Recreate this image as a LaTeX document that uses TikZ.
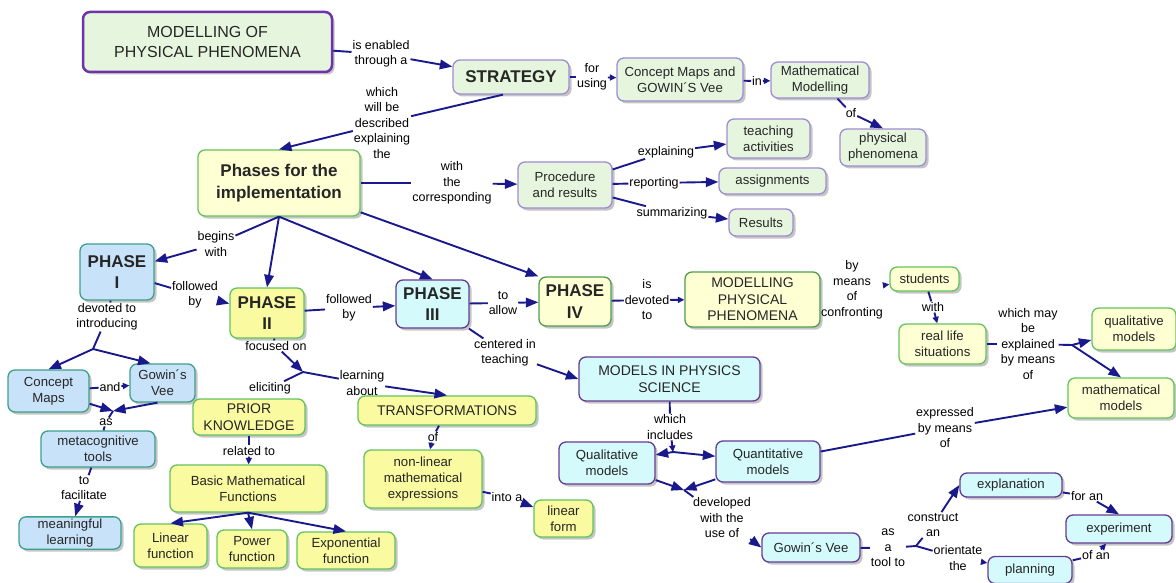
\documentclass[tikz,border=0pt]{standalone}
\usepackage{fontspec}
\setmainfont{Liberation Sans}
\usepackage{xcolor}
\usetikzlibrary{positioning, shapes, arrows.meta, calc, shadows}
\definecolor{cmGreenFill}{RGB}{230,246,222}
\definecolor{cmYellowFill}{RGB}{250,250,160}
\definecolor{cmCreamFill}{RGB}{255,255,212}
\definecolor{cmBlueFill}{RGB}{200,226,250}
\definecolor{cmCyanFill}{RGB}{212,250,252}
\definecolor{cmPurple}{RGB}{110,50,170}
\definecolor{cmLavender}{RGB}{160,140,210}
\definecolor{cmGreenLine}{RGB}{100,195,95}
\definecolor{cmTeal}{RGB}{60,160,140}
\definecolor{cmViolet}{RGB}{100,60,150}
\definecolor{cmNavy}{RGB}{25,25,140}
\newcommand{\boxfont}{\fontsize{13.2}{16}\selectfont}
\newcommand{\capsfont}{\fontsize{14}{16.5}\selectfont}
\newcommand{\bigfont}{\fontsize{16}{20}\selectfont}
\newcommand{\headfont}{\fontsize{17}{21.5}\selectfont\bfseries}
\newcommand{\linkfont}{\fontsize{12.5}{15.5}\selectfont}
\tikzset{boxsize/.style 2 args={minimum width=#1pt, minimum height=#2pt}}
\tikzset{conceptmap/.style={
    x=1pt, y=-1pt,
    conceptbox/.style={rectangle, rounded corners=7pt, line width=1.3pt, align=center, inner sep=2pt, text=black!85, font=\boxfont, drop shadow={shadow xshift=2.5pt, shadow yshift=-2.5pt, fill=black!45}},
    greenc/.style={conceptbox, fill=cmGreenFill, draw=cmLavender},
    yellowc/.style={conceptbox, fill=cmYellowFill, draw=cmGreenLine},
    creamc/.style={conceptbox, fill=cmCreamFill, draw=cmGreenLine},
    bluec/.style={conceptbox, fill=cmBlueFill, draw=cmTeal},
    cyanc/.style={conceptbox, fill=cmCyanFill, draw=cmViolet},
    headline/.style={font=\headfont},
    linkword/.style={align=center, inner sep=0.8pt, font=\linkfont},
    link/.style={draw=cmNavy, line width=1.9pt},
    arrowlink/.style={link, -{Triangle[length=12.5pt,width=9.5pt]}},
    smallarrow/.style={link, -{Triangle[length=6.5pt,width=6pt]}},
}}

\begin{document}
\begin{tikzpicture}[conceptmap]
    \useasboundingbox (0,0) rectangle (1176,583);

    \node[greenc, draw=cmPurple, line width=2.5pt, boxsize={249}{60}, font=\bigfont] (modphen) at (207.5,42) {MODELLING OF\\PHYSICAL PHENOMENA};
    \node[greenc, boxsize={116}{34}, headline] (strategy) at (511,77) {STRATEGY};
    \node[greenc, boxsize={126}{43}] (cmgv) at (680,79.5) {Concept Maps and\\GOWIN´S Vee};
    \node[greenc, boxsize={98}{36}] (mathmod) at (820,80) {Mathematical\\Modelling};
    \node[greenc, boxsize={86}{37}] (physphen) at (883,147.5) {physical\\phenomena};
    \node[creamc, boxsize={162}{66}, headline] (phases) at (279,183) {Phases for the\\implementation};
    \node[greenc, boxsize={94}{46}] (procres) at (565,185) {Procedure\\and results};
    \node[greenc, boxsize={83}{39}] (teaching) at (768.5,138.5) {teaching\\activities};
    \node[greenc, boxsize={107}{26}] (assign) at (772.5,181) {assignments};
    \node[greenc, boxsize={64}{27}] (results) at (761,222.5) {Results};
    \node[bluec, boxsize={74}{56}, headline] (phase1) at (117,272) {PHASE\\I};
    \node[yellowc, boxsize={74}{50}, headline] (phase2) at (267,313) {PHASE\\II};
    \node[cyanc, boxsize={73}{48}, headline] (phase3) at (432.5,304) {PHASE\\III};
    \node[creamc, draw=cmGreenLine!80!black, boxsize={72}{49}, headline] (phase4) at (575,301.5) {PHASE\\IV};
    \node[creamc, draw=cmGreenLine!80!black, boxsize={135}{55}, font=\capsfont] (modphen2) at (752.5,299.5) {MODELLING\\PHYSICAL\\PHENOMENA};
    \node[creamc, boxsize={69}{24}] (students) at (924.5,279) {students};
    \node[creamc, boxsize={87}{40}] (reallife) at (942.5,344) {real life\\situations};
    \node[creamc, boxsize={84}{42}] (qualmod) at (1134,329) {qualitative\\models};
    \node[creamc, boxsize={106}{40}] (mathmodels) at (1121,398) {mathematical\\models};
    \node[cyanc, boxsize={181}{44}, font=\capsfont] (modsci) at (669.5,379) {MODELS IN PHYSICS\\SCIENCE};
    \node[cyanc, boxsize={96}{42}] (qualmod2) at (607,463) {Qualitative\\models};
    \node[cyanc, boxsize={104}{41}] (quantmod) at (768,461.5) {Quantitative\\models};
    \node[cyanc, boxsize={98}{29}] (gowin2) at (811,547.5) {Gowin´s Vee};
    \node[cyanc, boxsize={102}{24}] (explan) at (1011,485) {explanation};
    \node[cyanc, boxsize={106}{28}] (experiment) at (1119,529) {experiment};
    \node[cyanc, boxsize={84}{27}] (planning) at (1030,570) {planning};
    \node[bluec, boxsize={81}{42}] (conmaps) at (48.5,391) {Concept\\Maps};
    \node[bluec, boxsize={65}{38}] (gowin1) at (162.5,383) {Gowin´s\\Vee};
    \node[bluec, boxsize={114}{36}] (metacog) at (98,449) {metacognitive\\tools};
    \node[bluec, boxsize={102}{32}] (meaning) at (70,533) {meaningful\\learning};
    \node[yellowc, boxsize={112}{36}, font=\capsfont] (prior) at (249,417) {PRIOR\\KNOWLEDGE};
    \node[yellowc, boxsize={156}{47}] (basic) at (248,488.5) {Basic Mathematical\\Functions};
    \node[yellowc, boxsize={73}{43}] (linear) at (170.5,545.5) {Linear\\function};
    \node[yellowc, boxsize={70}{38}] (power) at (252,549) {Power\\function};
    \node[yellowc, boxsize={98}{37}] (expo) at (346,550.5) {Exponential\\function};
    \node[yellowc, boxsize={178}{29}, font=\capsfont] (transf) at (447,410.5) {TRANSFORMATIONS};
    \node[yellowc, boxsize={118}{58}] (nonlin) at (423,479) {non-linear\\mathematical\\expressions};
    \node[yellowc, boxsize={59}{37}] (linform) at (563.5,518.5) {linear\\form};

    \node[linkword] (isenabled) at (381,54) {is enabled\\through a};
    \node[linkword] (forusing) at (592,77) {for\\using};
    \node[linkword] (inlabel) at (757,81) {in};
    \node[linkword] (oflabel) at (851,113) {of};
    \node[linkword] (described) at (382,123) {which\\will be\\described\\explaining\\the};
    \node[linkword] (corresp) at (452,183) {with\\the\\corresponding};
    \node[linkword] (explaining) at (666,152) {explaining};
    \node[linkword] (reporting) at (654,183) {reporting};
    \node[linkword] (summarizing) at (672,213) {summarizing};
    \node[linkword] (begins) at (216,244) {begins\\with};
    \node[linkword] (followedI) at (195,295) {followed\\by};
    \node[linkword] (followedII) at (349,308) {followed\\by};
    \node[linkword] (toallow) at (503,303) {to\\allow};
    \node[linkword] (devoted) at (647,300) {is\\devoted\\to};
    \node[linkword] (bymeans) at (852,290) {by\\means\\of\\confronting};
    \node[linkword] (withlabel) at (933,307) {with};
    \node[linkword] (maybe) at (1028,344) {which may\\be\\explained\\by means\\of};
    \node[linkword] (centered) at (505,353) {centered in\\teaching};
    \node[linkword] (introducing) at (107,317) {devoted to\\introducing};
    \node[linkword] (andlabel) at (110,387) {and};
    \node[linkword] (aslabel) at (106,422) {as};
    \node[linkword] (facilitate) at (84,488) {to\\facilitate};
    \node[linkword] (focused) at (276,346) {focused on};
    \node[linkword] (eliciting) at (270,388) {eliciting};
    \node[linkword] (learning) at (362,383) {learning\\about};
    \node[linkword] (related) at (249,451) {related to};
    \node[linkword] (oftransf) at (433,437) {of};
    \node[linkword] (intoa) at (507,497) {into a};
    \node[linkword] (includes) at (670,427) {which\\includes};
    \node[linkword] (developed) at (722,518) {developed\\with the\\use of};
    \node[linkword] (expressed) at (945,428) {expressed\\by means\\of};
    \node[linkword] (tool) at (888,548) {as\\a\\tool to};
    \node[linkword] (construct) at (933,525) {construct\\an};
    \node[linkword] (orientate) at (958,558) {orientate\\the};
    \node[linkword] (foran) at (1087,496) {for an};
    \node[linkword] (ofan) at (1096,555) {of an};

    \coordinate (jintro) at (93,349);
    \coordinate (jas) at (113,411);
    \coordinate (jfocus) at (303,372);
    \coordinate (jincl) at (673,452);
    \coordinate (jdev) at (684,490);
    \coordinate (jtool) at (916,546);
    \coordinate (jexpl) at (1072,345);

    \draw[link] (modphen) -- (isenabled);
    \draw[arrowlink] (isenabled) -- (strategy);
    \draw[link] (strategy) -- (forusing);
    \draw[smallarrow] (forusing) -- (cmgv);
    \draw[link] (cmgv) -- (inlabel);
    \draw[smallarrow] (inlabel) -- (mathmod);
    \draw[link] (mathmod) -- (oflabel);
    \draw[arrowlink] (oflabel) -- (physphen.north);
    \draw[link] ([xshift=-8pt]strategy.south) -- (described);
    \draw[arrowlink] ([yshift=-8pt]described.west) -- (phases.north);
    \draw[link] (phases) -- (corresp);
    \draw[arrowlink] (corresp) -- (procres);
    \draw[link] (procres) -- (explaining);
    \draw[arrowlink] (explaining) -- (teaching);
    \draw[link] (procres) -- (reporting);
    \draw[arrowlink] (reporting) -- (assign);
    \draw[link] (procres) -- (summarizing);
    \draw[arrowlink] (summarizing) -- (results);

    \draw[link] (phases.south) -- (begins);
    \draw[arrowlink] (begins) -- (phase1);
    \draw[arrowlink] (phases.south) -- (phase2.north);
    \draw[arrowlink] (phases.south) -- (phase3.north);
    \draw[arrowlink] (phases) -- (phase4.north west);
    \draw[link] (phase1) -- (followedI);
    \draw[arrowlink] (followedI) -- (phase2);
    \draw[link] (phase2) -- (followedII);
    \draw[arrowlink] (followedII) -- (phase3);
    \draw[link] (phase3) -- (toallow);
    \draw[arrowlink] (toallow) -- (phase4);
    \draw[link] (phase4) -- (devoted);
    \draw[smallarrow] (devoted) -- (modphen2);
    \draw[smallarrow] (bymeans) -- (students);
    \draw[link] (students) -- (withlabel);
    \draw[smallarrow] (withlabel) -- (reallife);
    \draw[link] (reallife) -- (maybe);
    \draw[link] (maybe) -- (jexpl);
    \draw[arrowlink] (jexpl) -- (qualmod);
    \draw[arrowlink] (jexpl) -- (mathmodels.north);
    \draw[link] (phase3) -- (centered);
    \draw[arrowlink] (centered) -- (modsci.west);

    \draw[link] (phase1) -- (introducing);
    \draw[link] (introducing) -- (jintro);
    \draw[arrowlink] (jintro) -- (conmaps.north);
    \draw[arrowlink] (jintro) -- ([xshift=-12pt]gowin1.north);
    \draw[link] (conmaps) -- (andlabel);
    \draw[smallarrow] (andlabel) -- (gowin1);
    \draw[arrowlink] (conmaps) -- (jas);
    \draw[arrowlink] ([xshift=-5pt]gowin1.south) -- (jas);
    \draw[link] (jas) -- (aslabel);
    \draw[link] (aslabel) -- (metacog);
    \draw[link] (metacog) -- (facilitate);
    \draw[arrowlink] (facilitate) -- (meaning);

    \draw[link] (phase2) -- (focused);
    \draw[arrowlink] (focused) -- (jfocus);
    \draw[link] (jfocus) -- (eliciting);
    \draw[link] (jfocus) -- (learning);
    \draw[arrowlink] (learning) -- (transf.north);
    \draw[link] (prior) -- (related);
    \draw[smallarrow] (related) -- (basic);
    \draw[arrowlink] (basic.south) -- (linear.north);
    \draw[arrowlink] (basic.south) -- (power.north);
    \draw[arrowlink] (basic.south) -- (expo.north);
    \draw[link] (transf) -- (oftransf);
    \draw[smallarrow] (oftransf) -- (nonlin);
    \draw[link] (nonlin) -- (intoa);
    \draw[arrowlink] (intoa) -- (linform);

    \draw[link] (modsci) -- (includes);
    \draw[smallarrow] (includes) -- (jincl);
    \draw[arrowlink] (jincl) -- (qualmod2);
    \draw[arrowlink] (jincl) -- (quantmod);
    \draw[arrowlink] (qualmod2) -- (jdev);
    \draw[arrowlink] (quantmod) -- (jdev);
    \draw[link] (jdev) -- (developed);
    \draw[arrowlink] (developed) -- (gowin2.west);
    \draw[link] (quantmod) -- (expressed);
    \draw[arrowlink] (expressed) -- (mathmodels);
    \draw[link] (gowin2) -- (tool);
    \draw[link] (tool) -- (jtool);
    \draw[link] (jtool) -- (construct);
    \draw[arrowlink] (construct) -- (explan.west);
    \draw[link] (jtool) -- (orientate);
    \draw[smallarrow] (orientate) -- (planning);
    \draw[link] (explan) -- (foran);
    \draw[arrowlink] (foran) -- (experiment.north);
    \draw[link] (planning) -- (ofan);
    \draw[smallarrow] (ofan) -- (experiment);
\end{tikzpicture}
\end{document}
